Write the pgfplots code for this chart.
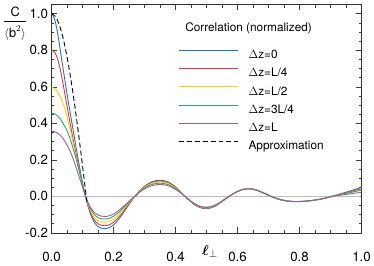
\documentclass[border=0pt]{standalone}
\usepackage{amsmath}
\usepackage{pgfplots}
\pgfplotsset{compat=1.18}
\usepackage{fontspec}
\setmainfont{TeX Gyre Heros}
\definecolor{cblue}{RGB}{31,119,190}
\definecolor{cred}{RGB}{235,50,60}
\definecolor{cyellow}{RGB}{255,212,0}
\definecolor{cgreen}{RGB}{40,168,120}
\definecolor{cpurple}{RGB}{160,90,165}
\begin{document}
\begin{tikzpicture}
\begin{axis}[
  scale only axis, width=315pt, height=232pt,
  xmin=0, xmax=1, ymin=-0.2, ymax=1.05,
  xtick={0,0.2,0.4,0.6,0.8,1.0},
  xticklabels={0.0,0.2,0.4,0.6,0.8,1.0},
  ytick={-0.2,0,0.2,0.4,0.6,0.8,1.0},
  yticklabels={-0.2,0.0,0.2,0.4,0.6,0.8,1.0},
  minor x tick num=3, minor y tick num=3,
  tick align=inside, xtick pos=both, ytick pos=both,
  xticklabel pos=bottom, yticklabel pos=left,
  major tick length=5.7pt, minor tick length=3pt,
  tick style={black!75, line width=0.6pt},
  axis line style={black!80, line width=0.8pt},
  ticklabel style={font=\fontsize{13.5}{15}\selectfont},
  xticklabel style={yshift=-16pt},
  legend style={at={(rel axis cs:0.4095,0.806)}, anchor=north west, draw=none, fill=none,
    inner sep=0pt, row sep=7.2pt, column sep=10pt, font=\fontsize{12}{14}\selectfont,
    nodes={inner sep=0pt}},
  legend cell align=left,
  legend image code/.code={\path (0pt,0pt) (60pt,0pt); \draw[#1, line width=1.1pt] (0pt,4.3pt) -- (60pt,4.3pt);},
  every axis plot/.append style={line width=0.9pt},
]
\addplot[black!25, line width=0.8pt, forget plot] coordinates {(0,0) (1,0)};
\addplot[cblue, smooth] coordinates {(0,1.0)(0.01,0.97)(0.02,0.89)(0.03,0.78)(0.04,0.67)(0.05,0.56)(0.06,0.46)(0.07,0.36)(0.08,0.26)(0.09,0.165)(0.10,0.075)(0.11,-0.005)(0.12,-0.068)(0.13,-0.115)(0.14,-0.147)(0.15,-0.165)(0.16,-0.174)(0.17,-0.177)(0.18,-0.175)(0.19,-0.168)(0.20,-0.156)(0.21,-0.139)(0.22,-0.118)(0.23,-0.094)(0.24,-0.069)(0.25,-0.044)(0.26,-0.02)(0.27,0.002)(0.28,0.022)(0.29,0.04)(0.30,0.055)(0.32,0.077)(0.34,0.087)(0.36,0.087)(0.38,0.076)(0.40,0.052)(0.42,0.019)(0.44,-0.015)(0.46,-0.044)(0.48,-0.062)(0.50,-0.067)(0.52,-0.06)(0.54,-0.041)(0.56,-0.016)(0.58,0.008)(0.60,0.028)(0.62,0.04)(0.64,0.043)(0.66,0.036)(0.68,0.022)(0.70,0.006)(0.72,-0.008)(0.74,-0.019)(0.76,-0.026)(0.78,-0.029)(0.80,-0.029)(0.82,-0.027)(0.84,-0.023)(0.86,-0.018)(0.88,-0.011)(0.90,-0.002)(0.92,0.008)(0.94,0.018)(0.96,0.028)(0.98,0.039)(1.00,0.049)};
\addlegendentry{\strut$\Delta$z=0}
\addplot[cred, smooth] coordinates {(0,0.80)(0.01,0.79)(0.02,0.75)(0.03,0.68)(0.04,0.59)(0.05,0.495)(0.06,0.40)(0.07,0.31)(0.08,0.225)(0.09,0.145)(0.10,0.068)(0.11,0.0)(0.12,-0.062)(0.13,-0.105)(0.14,-0.134)(0.15,-0.150)(0.16,-0.158)(0.17,-0.161)(0.18,-0.159)(0.19,-0.153)(0.20,-0.142)(0.21,-0.126)(0.22,-0.107)(0.23,-0.086)(0.24,-0.063)(0.25,-0.040)(0.26,-0.018)(0.27,0.002)(0.28,0.021)(0.29,0.038)(0.30,0.052)(0.32,0.073)(0.34,0.083)(0.36,0.083)(0.38,0.072)(0.40,0.049)(0.42,0.018)(0.44,-0.015)(0.46,-0.043)(0.48,-0.060)(0.50,-0.065)(0.52,-0.058)(0.54,-0.040)(0.56,-0.016)(0.58,0.008)(0.60,0.027)(0.62,0.039)(0.64,0.042)(0.66,0.035)(0.68,0.022)(0.70,0.006)(0.72,-0.008)(0.74,-0.019)(0.76,-0.025)(0.78,-0.028)(0.80,-0.028)(0.82,-0.026)(0.84,-0.023)(0.86,-0.018)(0.88,-0.011)(0.90,-0.002)(0.92,0.007)(0.94,0.015)(0.96,0.024)(0.98,0.033)(1.00,0.042)};
\addlegendentry{\strut$\Delta$z=L/4}
\addplot[cyellow, smooth] coordinates {(0,0.597)(0.01,0.59)(0.02,0.57)(0.03,0.54)(0.04,0.495)(0.05,0.435)(0.06,0.365)(0.07,0.29)(0.08,0.21)(0.09,0.135)(0.10,0.062)(0.11,0.0)(0.12,-0.054)(0.13,-0.092)(0.14,-0.118)(0.15,-0.132)(0.16,-0.139)(0.17,-0.142)(0.18,-0.140)(0.19,-0.134)(0.20,-0.125)(0.21,-0.111)(0.22,-0.094)(0.23,-0.075)(0.24,-0.055)(0.25,-0.035)(0.26,-0.016)(0.27,0.002)(0.28,0.020)(0.29,0.036)(0.30,0.049)(0.32,0.069)(0.34,0.077)(0.36,0.077)(0.38,0.068)(0.40,0.046)(0.42,0.017)(0.44,-0.014)(0.46,-0.041)(0.48,-0.058)(0.50,-0.063)(0.52,-0.056)(0.54,-0.039)(0.56,-0.015)(0.58,0.008)(0.60,0.027)(0.62,0.039)(0.64,0.042)(0.66,0.035)(0.68,0.021)(0.70,0.006)(0.72,-0.008)(0.74,-0.018)(0.76,-0.025)(0.78,-0.028)(0.80,-0.028)(0.82,-0.026)(0.84,-0.022)(0.86,-0.017)(0.88,-0.011)(0.90,-0.002)(0.92,0.006)(0.94,0.013)(0.96,0.020)(0.98,0.028)(1.00,0.035)};
\addlegendentry{\strut$\Delta$z=L/2}
\addplot[cgreen, smooth] coordinates {(0,0.456)(0.01,0.452)(0.02,0.44)(0.03,0.42)(0.04,0.39)(0.05,0.36)(0.06,0.315)(0.07,0.26)(0.08,0.2)(0.09,0.135)(0.10,0.068)(0.11,0.0)(0.12,-0.048)(0.13,-0.081)(0.14,-0.103)(0.15,-0.116)(0.16,-0.122)(0.17,-0.124)(0.18,-0.123)(0.19,-0.118)(0.20,-0.109)(0.21,-0.097)(0.22,-0.083)(0.23,-0.066)(0.24,-0.048)(0.25,-0.031)(0.26,-0.014)(0.27,0.002)(0.28,0.018)(0.29,0.033)(0.30,0.045)(0.32,0.063)(0.34,0.071)(0.36,0.071)(0.38,0.062)(0.40,0.043)(0.42,0.016)(0.44,-0.014)(0.46,-0.040)(0.48,-0.056)(0.50,-0.061)(0.52,-0.055)(0.54,-0.037)(0.56,-0.015)(0.58,0.008)(0.60,0.027)(0.62,0.038)(0.64,0.041)(0.66,0.035)(0.68,0.021)(0.70,0.006)(0.72,-0.008)(0.74,-0.018)(0.76,-0.025)(0.78,-0.028)(0.80,-0.028)(0.82,-0.026)(0.84,-0.022)(0.86,-0.017)(0.88,-0.011)(0.90,-0.002)(0.92,0.006)(0.94,0.013)(0.96,0.020)(0.98,0.027)(1.00,0.034)};
\addlegendentry{\strut$\Delta$z=3L/4}
\addplot[cpurple, smooth] coordinates {(0,0.357)(0.01,0.354)(0.02,0.346)(0.03,0.332)(0.04,0.31)(0.05,0.282)(0.06,0.247)(0.07,0.205)(0.08,0.155)(0.09,0.103)(0.10,0.05)(0.11,-0.002)(0.12,-0.042)(0.13,-0.071)(0.14,-0.091)(0.15,-0.102)(0.16,-0.108)(0.17,-0.110)(0.18,-0.109)(0.19,-0.104)(0.20,-0.097)(0.21,-0.086)(0.22,-0.073)(0.23,-0.058)(0.24,-0.043)(0.25,-0.027)(0.26,-0.012)(0.27,0.002)(0.28,0.016)(0.29,0.030)(0.30,0.041)(0.32,0.057)(0.34,0.064)(0.36,0.064)(0.38,0.056)(0.40,0.038)(0.42,0.014)(0.44,-0.013)(0.46,-0.039)(0.48,-0.055)(0.50,-0.059)(0.52,-0.053)(0.54,-0.036)(0.56,-0.014)(0.58,0.008)(0.60,0.027)(0.62,0.038)(0.64,0.041)(0.66,0.034)(0.68,0.021)(0.70,0.006)(0.72,-0.008)(0.74,-0.018)(0.76,-0.025)(0.78,-0.028)(0.80,-0.028)(0.82,-0.026)(0.84,-0.022)(0.86,-0.017)(0.88,-0.010)(0.90,-0.002)(0.92,0.004)(0.94,0.008)(0.96,0.013)(0.98,0.018)(1.00,0.022)};
\addlegendentry{\strut$\Delta$z=L}
\addplot[black, dash pattern=on 5pt off 3pt, smooth] coordinates {(0,1.0)(0.01,0.99)(0.02,0.961)(0.03,0.913)(0.04,0.847)(0.05,0.764)(0.06,0.667)(0.07,0.556)(0.08,0.434)(0.09,0.304)(0.10,0.167)(0.11,0.028)(0.114,-0.028)};
\addlegendentry{\strut Approximation}
\node[anchor=east, font=\fontsize{12}{14}\selectfont] at (rel axis cs:0.851,0.898) {Correlation (normalized)};
\end{axis}
\node[anchor=center, font=\fontsize{13}{15}\selectfont, xshift=-37pt, yshift=-19.5pt] at (current axis.north west) {$\genfrac{}{}{1.2pt}{0}{\text{C}}{\langle\text{b}^{2}\rangle}$};
\node[anchor=center, font=\fontsize{15}{17}\selectfont, xshift=161pt, yshift=-19pt] at (current axis.south west) {$\boldsymbol{\ell}_{\perp}$};
\path (current axis.south west) +(-49pt,-32pt) (current axis.north east) +(10pt,4.7pt);
\end{tikzpicture}
\end{document}
